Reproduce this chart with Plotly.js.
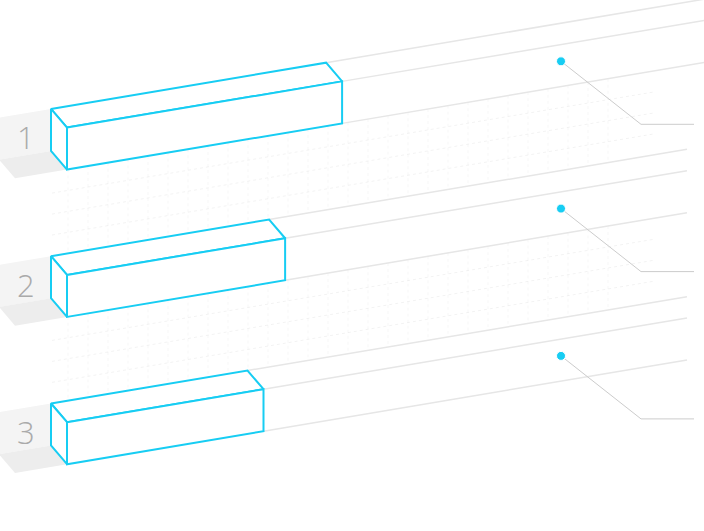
<!DOCTYPE html>
<html><head><meta charset="utf-8">
<script src="https://cdn.plot.ly/plotly-3.0.1.min.js"></script>
<style>html,body{margin:0;padding:0;background:#fff}#chart{width:704px;height:531px}</style>
</head><body><div id="chart"></div>
<script>
// ---- data ----
const categories = ["1", "2", "3"];
const values = [70, 55.5, 50];

// ---- geometry & style (not data) ----
const W = 704, H = 531;
const X0 = 67, Y0 = 127.6, ROW = 147.3;
const SLOPE = -0.168, PX = 3.93, DX = -16, DY = -18.7, BH = 42;
const CYAN = '#17cdf3';
const GRAY_LINE = '#e6e6e6';

function P(i, L, d, h) {
  const y0 = Y0 + ROW * i;
  return [X0 + L + d * DX, y0 + SLOPE * L + d * DY + h * BH];
}
function poly(i, pts, close) {
  const xs = [], ys = [];
  pts.forEach(p => { const q = P(i, p[0], p[1], p[2]); xs.push(q[0]); ys.push(q[1]); });
  if (close) { xs.push(xs[0]); ys.push(ys[0]); }
  return {x: xs, y: ys};
}
function Lat(x, d) { return x - X0 - d * DX; }

const traces = [];
function add(t) { t.type = 'scatter'; t.hoverinfo = 'skip'; t.showlegend = false; traces.push(t); }

// grid between rows
for (let i = 0; i < categories.length - 1; i++) {
  const yTop = x => P(i, Lat(x, 0), 0, 1)[1];
  const yBot = x => P(i + 1, Lat(x, 1), 1, 0)[1];
  const xa = 52, xb = 655;
  for (let f = 1; f <= 3; f++) {
    const t = f / 4;
    add({x: [xa, xb], y: [yTop(xa) * (1 - t) + yBot(xa) * t, yTop(xb) * (1 - t) + yBot(xb) * t],
      mode: 'lines', line: {color: 'rgba(0,0,0,0.05)', width: 1, dash: 'dot'}});
  }
  const vx = [], vy = [];
  for (let x = 68; x <= 620; x += 20) {
    vx.push(x, x, null); vy.push(yTop(x), yBot(x), null);
  }
  add({x: vx, y: vy, mode: 'lines', line: {color: 'rgba(0,0,0,0.035)', width: 1, dash: 'dot'}});
}

// extension lines
categories.forEach((c, i) => {
  const L = values[i] * PX;
  const xEnd = i === 0 ? 710 : 687;
  const segs = [[1, 0], [0, 0], [0, 1]];
  const xs = [], ys = [];
  segs.forEach(s => {
    const a = P(i, L, s[0], s[1]);
    const b = P(i, Lat(xEnd, s[0]), s[0], s[1]);
    xs.push(a[0], b[0], null); ys.push(a[1], b[1], null);
  });
  add({x: xs, y: ys, mode: 'lines', line: {color: GRAY_LINE, width: 1.5}});
});

// left label panels
categories.forEach((c, i) => {
  const back = poly(i, [[-52, 1, 0], [0, 1, 0], [0, 1, 1], [-52, 1, 1]], true);
  add(Object.assign(back, {mode: 'lines', fill: 'toself', fillcolor: '#f4f4f4', line: {width: 0, color: '#f4f4f4'}}));
  const floor = poly(i, [[-52, 1, 1], [0, 1, 1], [0, 0, 1], [-52, 0, 1]], true);
  add(Object.assign(floor, {mode: 'lines', fill: 'toself', fillcolor: '#ededed', line: {width: 0, color: '#ededed'}}));
});

// bars
categories.forEach((c, i) => {
  const L = values[i] * PX;
  const faces = [
    [[0, 0, 0], [L, 0, 0], [L, 1, 0], [0, 1, 0]],
    [[0, 0, 0], [0, 1, 0], [0, 1, 1], [0, 0, 1]],
    [[0, 0, 0], [L, 0, 0], [L, 0, 1], [0, 0, 1]]
  ];
  faces.forEach(f => {
    const p = poly(i, f, true);
    add(Object.assign(p, {mode: 'lines', fill: 'toself', fillcolor: '#ffffff', line: {color: CYAN, width: 2}}));
  });
});

// callouts
categories.forEach((c, i) => {
  const dx = X0 + 494, dy = Y0 + ROW * i - 66.3;
  add({x: [dx, dx + 80, dx + 133], y: [dy, dy + 63, dy + 63], mode: 'lines', line: {color: '#cccccc', width: 1}});
  add({x: [dx], y: [dy], mode: 'markers', marker: {size: 9, color: CYAN, line: {color: '#ffffff', width: 1}}});
});

// labels
const annotations = categories.map((c, i) => {
  const a = P(i, -26, 1, 0.5);
  return {x: a[0] + 1, y: a[1] + 3, xref: 'x', yref: 'y', text: c, showarrow: false,
    font: {family: 'Open Sans, Lato, sans-serif', size: 31, color: '#aaaaaa', weight: 300}};
});

const layout = {
  width: W, height: H, margin: {l: 0, r: 0, t: 0, b: 0},
  paper_bgcolor: '#ffffff', plot_bgcolor: '#ffffff',
  xaxis: {range: [0, W], visible: false, fixedrange: true},
  yaxis: {range: [H, 0], visible: false, fixedrange: true},
  annotations: annotations, showlegend: false
};
Plotly.newPlot('chart', traces, layout, {displayModeBar: false, staticPlot: true});
</script>
</body></html>
